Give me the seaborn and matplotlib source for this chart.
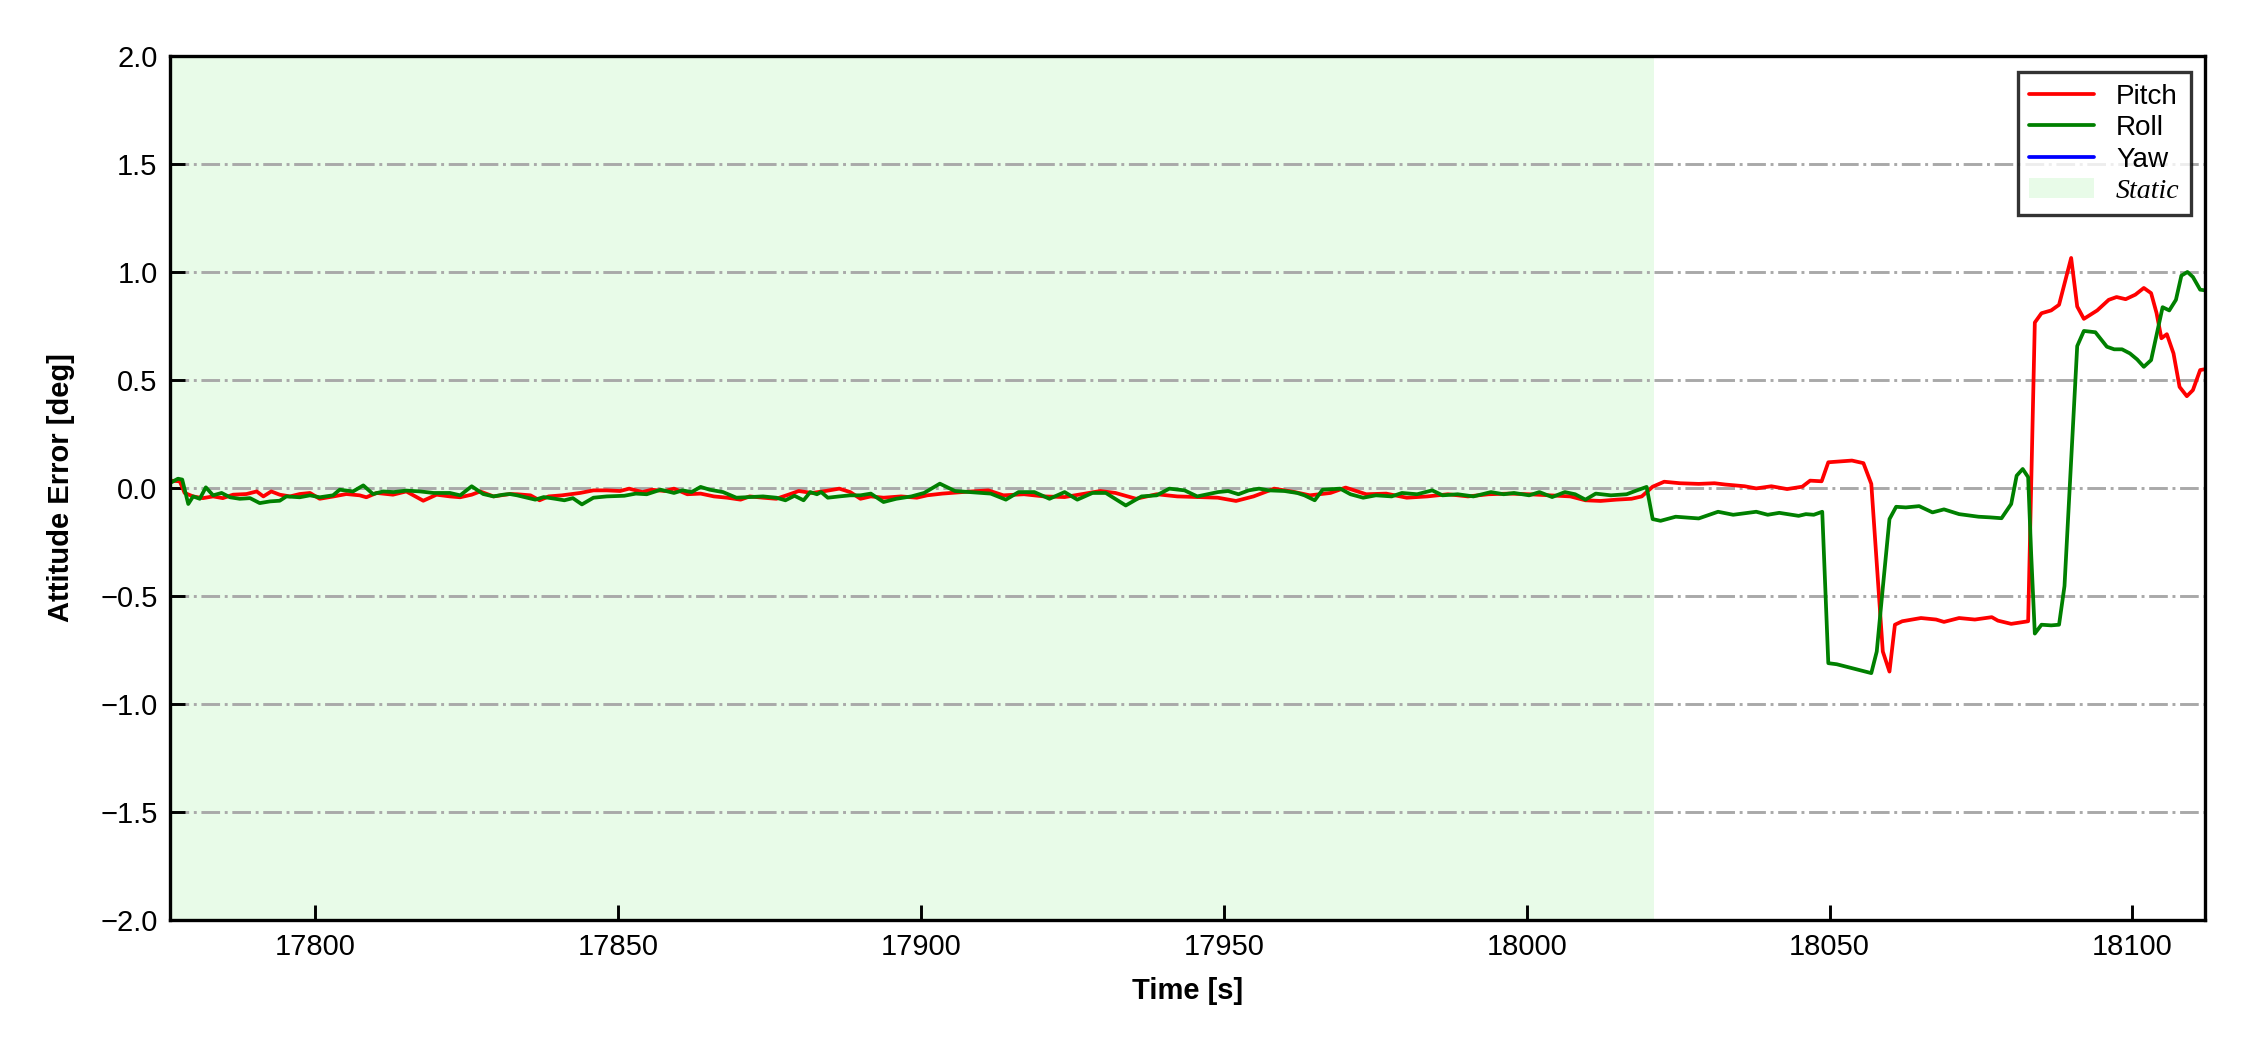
import matplotlib
matplotlib.use("Agg")
import matplotlib.pyplot as plt
import matplotlib.patches as mpatches
import seaborn as sns
import pandas as pd

# pitch error (red)
pitch_t = [
    17776.0, 17777.6, 17778.4, 17779.8, 17781.4, 17783.1, 17784.7, 17786.4, 17788.6, 17790.3,
    17791.4, 17792.7, 17794.1, 17795.8, 17797.4, 17799.1, 17800.7, 17803.0, 17805.1, 17807.3,
    17808.4, 17810.1, 17812.8, 17815.0, 17817.8, 17820.0, 17822.2, 17823.9, 17825.8, 17827.2,
    17829.4, 17832.1, 17833.3, 17835.5, 17837.0, 17838.5, 17840.7, 17843.7, 17845.9, 17848.1,
    17850.3, 17851.8, 17854.0, 17855.5, 17857.7, 17859.2, 17861.4, 17863.6, 17865.8, 17868.0,
    17870.2, 17871.7, 17873.9, 17876.1, 17878.3, 17879.8, 17882.0, 17884.2, 17886.5, 17888.3,
    17890.0, 17891.7, 17893.8, 17896.7, 17899.3, 17901.0, 17903.5, 17906.8, 17911.1, 17913.6,
    17917.0, 17920.3, 17923.7, 17927.1, 17929.6, 17932.1, 17935.5, 17938.9, 17942.3, 17945.6,
    17949.0, 17952.0, 17954.9, 17958.3, 17961.7, 17964.2, 17967.6, 17970.1, 17973.5, 17976.8,
    17980.2, 17983.6, 17987.0, 17990.3, 17993.7, 17997.1, 18000.4, 18003.8, 18007.2, 18009.7,
    18012.2, 18014.8, 18017.3, 18019.0, 18020.8, 18022.7, 18025.3, 18028.4, 18031.0, 18032.8,
    18036.0, 18037.9, 18040.4, 18043.0, 18045.5, 18046.8, 18048.7, 18049.8, 18053.7, 18055.6,
    18056.9, 18058.8, 18059.9, 18060.8, 18062.0, 18065.1, 18067.6, 18068.9, 18071.4, 18074.0,
    18076.8, 18077.8, 18080.0, 18082.8, 18083.9, 18085.0, 18086.6, 18087.9, 18089.9, 18090.9,
    18092.0, 18094.2, 18096.1, 18097.4, 18098.9, 18100.5, 18101.9, 18103.1, 18104.0, 18104.8,
    18105.7, 18106.8, 18107.8, 18109.0, 18110.0, 18111.2, 18112.0,
]
pitch = [
    0.034, 0.031, -0.023, -0.039, -0.047, -0.039, -0.047, -0.031, -0.028, -0.016,
    -0.039, -0.016, -0.031, -0.039, -0.028, -0.023, -0.050, -0.039, -0.028, -0.034,
    -0.043, -0.023, -0.031, -0.016, -0.059, -0.031, -0.039, -0.043, -0.031, -0.016,
    -0.039, -0.028, -0.029, -0.034, -0.057, -0.039, -0.034, -0.023, -0.011, -0.011,
    -0.014, -0.003, -0.019, -0.008, -0.014, -0.003, -0.029, -0.026, -0.039, -0.045,
    -0.054, -0.039, -0.045, -0.050, -0.029, -0.014, -0.023, -0.014, -0.003, -0.019,
    -0.050, -0.039, -0.045, -0.039, -0.045, -0.034, -0.026, -0.019, -0.011, -0.034,
    -0.029, -0.039, -0.042, -0.026, -0.014, -0.023, -0.050, -0.029, -0.039, -0.042,
    -0.045, -0.060, -0.039, -0.003, -0.019, -0.034, -0.023, 0.002, -0.029, -0.026,
    -0.045, -0.039, -0.029, -0.039, -0.029, -0.026, -0.029, -0.034, -0.039, -0.057,
    -0.060, -0.054, -0.050, -0.039, 0.006, 0.029, 0.022, 0.019, 0.022, 0.016,
    0.008, -0.002, 0.008, -0.005, 0.006, 0.034, 0.031, 0.119, 0.127, 0.115,
    0.019, -0.757, -0.850, -0.633, -0.617, -0.602, -0.609, -0.620, -0.602, -0.609,
    -0.598, -0.614, -0.629, -0.617, 0.766, 0.809, 0.822, 0.848, 1.065, 0.840,
    0.783, 0.822, 0.871, 0.884, 0.874, 0.895, 0.926, 0.902, 0.810, 0.693,
    0.712, 0.623, 0.468, 0.425, 0.453, 0.546, 0.550,
]

# roll error (green)
roll_t = [
    17776.0, 17777.3, 17778.0, 17779.0, 17779.8, 17780.9, 17781.9, 17783.1, 17784.5, 17785.9,
    17787.5, 17789.2, 17790.8, 17792.5, 17794.1, 17795.2, 17797.4, 17799.1, 17800.7, 17802.9,
    17804.0, 17806.2, 17807.9, 17809.5, 17811.2, 17812.9, 17815.0, 17817.3, 17819.5, 17822.2,
    17823.9, 17825.8, 17827.7, 17829.4, 17831.0, 17832.1, 17833.3, 17836.3, 17837.7, 17839.6,
    17841.1, 17842.5, 17844.0, 17845.9, 17848.1, 17851.0, 17852.9, 17854.7, 17857.0, 17859.2,
    17860.6, 17862.1, 17863.6, 17865.1, 17867.3, 17869.5, 17871.7, 17873.9, 17876.1, 17877.6,
    17879.1, 17880.6, 17881.7, 17882.8, 17883.5, 17884.6, 17886.5, 17888.3, 17890.0, 17891.7,
    17893.8, 17895.9, 17898.4, 17900.5, 17903.1, 17905.6, 17908.1, 17911.5, 17914.0, 17916.1,
    17918.7, 17921.2, 17923.7, 17925.8, 17928.3, 17930.5, 17933.8, 17936.4, 17938.9, 17941.0,
    17943.5, 17945.6, 17949.0, 17950.7, 17952.4, 17954.1, 17955.8, 17957.4, 17960.0, 17962.1,
    17963.3, 17965.0, 17966.3, 17969.2, 17970.9, 17973.0, 17975.1, 17977.7, 17979.4, 17981.9,
    17984.4, 17986.1, 17988.6, 17991.2, 17994.1, 17996.2, 17997.9, 18000.4, 18002.1, 18004.2,
    18006.3, 18008.0, 18009.7, 18011.4, 18013.9, 18016.5, 18018.2, 18019.8, 18020.8, 18022.1,
    18024.6, 18028.4, 18031.6, 18034.1, 18037.9, 18039.8, 18041.7, 18044.9, 18046.1, 18047.4,
    18048.8, 18049.8, 18051.2, 18056.9, 18057.8, 18058.8, 18059.9, 18061.0, 18062.6, 18064.8,
    18067.0, 18068.9, 18071.4, 18074.6, 18076.5, 18078.4, 18080.0, 18080.9, 18081.9, 18082.8,
    18083.3, 18083.9, 18085.0, 18086.6, 18087.9, 18088.8, 18090.9, 18092.0, 18093.9, 18095.8,
    18097.0, 18098.3, 18099.6, 18100.8, 18101.9, 18103.1, 18104.0, 18105.0, 18106.1, 18107.2,
    18108.1, 18109.1, 18110.0, 18111.2, 18112.0,
]
roll = [
    0.023, 0.043, 0.039, -0.074, -0.039, -0.050, 0.003, -0.034, -0.023, -0.043,
    -0.050, -0.047, -0.070, -0.062, -0.059, -0.039, -0.043, -0.034, -0.043, -0.034,
    -0.008, -0.016, 0.012, -0.028, -0.016, -0.019, -0.012, -0.016, -0.023, -0.023,
    -0.034, 0.008, -0.028, -0.039, -0.031, -0.028, -0.034, -0.054, -0.042, -0.050,
    -0.057, -0.047, -0.076, -0.045, -0.039, -0.036, -0.026, -0.029, -0.008, -0.023,
    -0.011, -0.019, 0.005, -0.008, -0.019, -0.045, -0.042, -0.039, -0.045, -0.057,
    -0.036, -0.057, -0.019, -0.029, -0.019, -0.045, -0.039, -0.034, -0.034, -0.026,
    -0.065, -0.050, -0.039, -0.023, 0.020, -0.014, -0.019, -0.026, -0.054, -0.019,
    -0.019, -0.050, -0.019, -0.054, -0.023, -0.023, -0.081, -0.039, -0.034, -0.003,
    -0.011, -0.039, -0.019, -0.014, -0.029, -0.011, -0.003, -0.011, -0.014, -0.023,
    -0.034, -0.057, -0.008, -0.003, -0.029, -0.045, -0.034, -0.039, -0.023, -0.029,
    -0.011, -0.034, -0.029, -0.039, -0.019, -0.029, -0.023, -0.034, -0.019, -0.042,
    -0.019, -0.029, -0.054, -0.026, -0.034, -0.029, -0.011, 0.005, -0.144, -0.152,
    -0.133, -0.141, -0.110, -0.124, -0.110, -0.124, -0.115, -0.129, -0.121, -0.124,
    -0.110, -0.811, -0.816, -0.857, -0.757, -0.462, -0.144, -0.087, -0.090, -0.084,
    -0.113, -0.099, -0.121, -0.133, -0.136, -0.140, -0.074, 0.057, 0.088, 0.050,
    -0.307, -0.674, -0.633, -0.636, -0.633, -0.454, 0.657, 0.727, 0.721, 0.654,
    0.642, 0.642, 0.623, 0.595, 0.561, 0.592, 0.709, 0.837, 0.822, 0.871,
    0.983, 1.000, 0.977, 0.918, 0.915,
]

# yaw is in the legend but not visible in the plotted window
yaw_t = []
yaw = []

static_start, static_end = 17776.0, 18021.0
x_ticks = [17800, 17850, 17900, 17950, 18000, 18050, 18100]
y_ticks = [-2.0, -1.5, -1.0, -0.5, 0.0, 0.5, 1.0, 1.5, 2.0]

sns.set_style("ticks")
plt.rcParams["font.family"] = ["Liberation Sans", "DejaVu Sans"]
plt.rcParams["xtick.direction"] = "in"
plt.rcParams["ytick.direction"] = "in"
plt.rcParams["text.color"] = "black"
plt.rcParams["axes.labelcolor"] = "black"
plt.rcParams["xtick.color"] = "black"
plt.rcParams["ytick.color"] = "black"

fig = plt.figure(figsize=(7.5, 3.5), dpi=300)
ax = fig.add_axes([0.0756, 0.1238, 0.9044, 0.8229])

ax.axvspan(static_start, static_end, color="lightgreen", alpha=0.2, lw=0, zorder=0)

df_pitch = pd.DataFrame({"t": pitch_t, "v": pitch})
df_roll = pd.DataFrame({"t": roll_t, "v": roll})
sns.lineplot(data=df_pitch, x="t", y="v", color="red", lw=0.9, ax=ax,
             estimator=None, sort=False)
sns.lineplot(data=df_roll, x="t", y="v", color="green", lw=0.9, ax=ax,
             estimator=None, sort=False)
ax.plot(yaw_t, yaw, color="blue", lw=0.9)

ax.set_xlim(17776, 18112)
ax.set_ylim(-2, 2)
ax.set_xticks(x_ticks)
ax.set_yticks(y_ticks)
ax.yaxis.grid(True, linestyle="-.", color="darkgray", lw=0.7)
ax.set_axisbelow(True)

ax.tick_params(axis="both", labelsize=7, length=3.5, width=0.7, pad=3)
for s in ax.spines.values():
    s.set_linewidth(0.8)
    s.set_color("black")

ax.set_xlabel("Time [s]", fontsize=7, fontweight="bold", labelpad=4)
ax.set_ylabel("Attitude Error [deg]", fontsize=7, fontweight="bold", labelpad=6)

handles = [
    plt.Line2D([], [], color="red", lw=0.9),
    plt.Line2D([], [], color="green", lw=0.9),
    plt.Line2D([], [], color="blue", lw=0.9),
    mpatches.Patch(color="lightgreen", alpha=0.2, lw=0),
]
leg = ax.legend(handles, ["Pitch", "Roll", "Yaw", "Static"], loc="upper right",
                fontsize=6.7, frameon=True, fancybox=False, edgecolor="black",
                handlelength=2.3, labelspacing=0.2, borderpad=0.4,
                borderaxespad=0, bbox_to_anchor=(0.993, 0.981))
leg.get_frame().set_linewidth(0.8)
leg.get_texts()[3].set_fontfamily(["Liberation Serif", "DejaVu Serif"])
leg.get_texts()[3].set_fontstyle("italic")

fig.savefig("out.png", dpi=300)
plt.close(fig)
